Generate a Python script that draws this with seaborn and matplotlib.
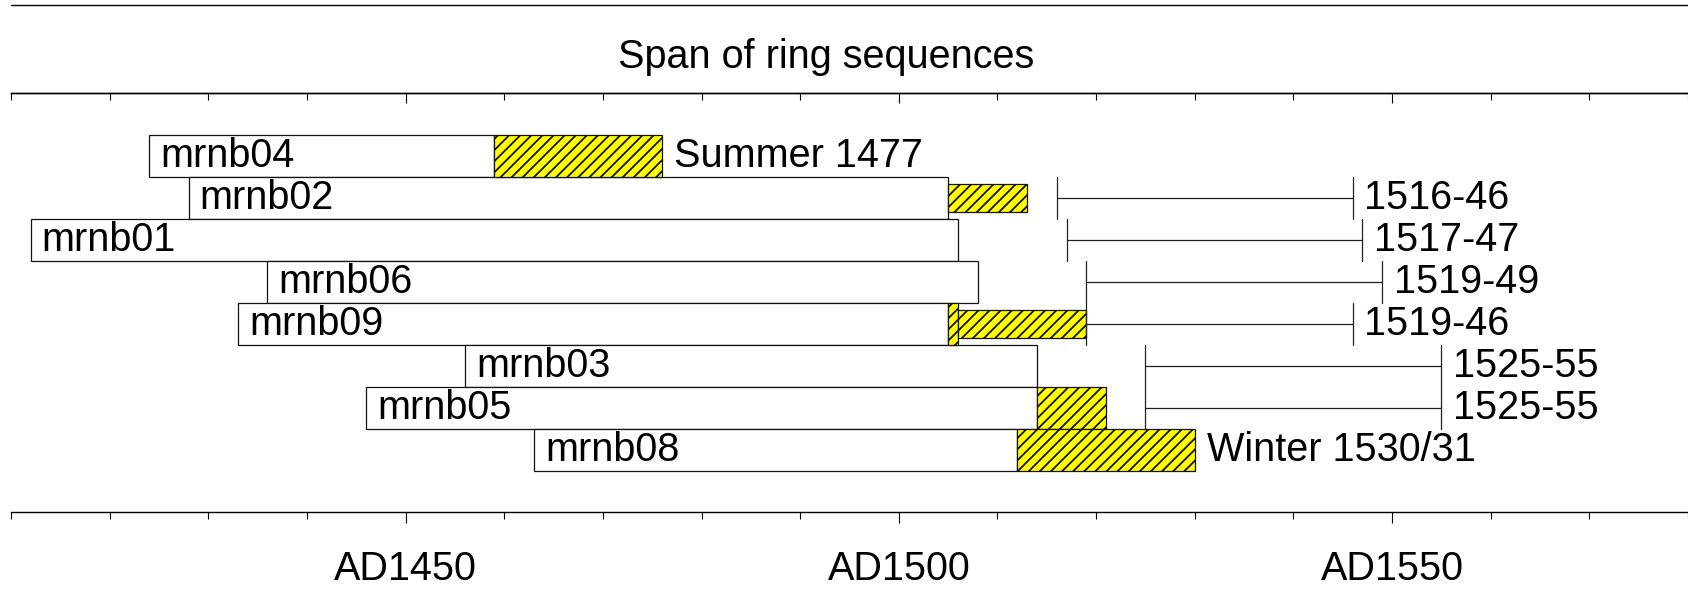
import numpy as np
import pandas as pd
import matplotlib
matplotlib.use('Agg')
import matplotlib.pyplot as plt
from matplotlib.lines import Line2D
from matplotlib.ticker import MultipleLocator, FixedLocator
import seaborn as sns

# Sample data (years)
names = ['mrnb04', 'mrnb02', 'mrnb01', 'mrnb06', 'mrnb09', 'mrnb03', 'mrnb05', 'mrnb08']
first_ring = [1424, 1428, 1412, 1436, 1433, 1456, 1446, 1463]
heartwood_end = [1459, 1505, 1506, 1508, 1505, 1514, 1514, 1512]
sapwood_end = [1476, np.nan, np.nan, np.nan, 1506, np.nan, 1521, 1530]
sapwood_est_end = [np.nan, 1513, np.nan, np.nan, 1519, np.nan, np.nan, np.nan]
felled_from = [np.nan, 1516, 1517, 1519, 1519, 1525, 1525, np.nan]
felled_to = [np.nan, 1546, 1547, 1549, 1546, 1555, 1555, np.nan]
end_labels = ['Summer 1477', '1516-46', '1517-47', '1519-49', '1519-46',
              '1525-55', '1525-55', 'Winter 1530/31']
major_years = [1450, 1500, 1550]
major_labels = ['AD1450', 'AD1500', 'AD1550']

df = pd.DataFrame({'name': names, 'start': first_ring, 'hw_end': heartwood_end,
                   'sap_end': sapwood_end, 'est_end': sapwood_est_end,
                   'fell_from': felled_from, 'fell_to': felled_to, 'label': end_labels})
df['row'] = np.arange(len(df)) + 0.5

sns.set_style('ticks')
plt.rcParams['font.family'] = ['Liberation Sans', 'DejaVu Sans']
plt.rcParams['text.color'] = 'black'
plt.rcParams['xtick.color'] = 'black'
plt.rcParams['xtick.labelcolor'] = 'black'
plt.rcParams['hatch.linewidth'] = 1.3
plt.rcParams['hatch.color'] = 'black'

fig = plt.figure(figsize=(16.88, 5.98), dpi=100)
ax = fig.add_axes([11 / 1688, 0.143, 1 - 11 / 1688, 0.7015])

fs = 28.5
edge = dict(edgecolor='#111111', linewidth=0.9)

# heartwood / measured span
ax.barh(df['row'], df['hw_end'] - df['start'], left=df['start'], height=1.0,
        color='white', **edge)

# measured sapwood (full height)
sap = df.dropna(subset=['sap_end'])
ax.barh(sap['row'], sap['sap_end'] - sap['hw_end'], left=sap['hw_end'], height=1.0,
        color='#ffff00', hatch='///', **edge)

# estimated sapwood (shorter box)
est = df.dropna(subset=['est_end'])
est_left = est['sap_end'].fillna(est['hw_end'])
ax.barh(est['row'], est['est_end'] - est_left, left=est_left, height=0.66,
        color='#ffff00', hatch='///', **edge)

# felling date ranges
for _, r in df.dropna(subset=['fell_from']).iterrows():
    ax.plot([r['fell_from'], r['fell_to']], [r['row'], r['row']], color='#222222', lw=0.9)
    for xv in (r['fell_from'], r['fell_to']):
        ax.plot([xv, xv], [r['row'] - 0.5, r['row'] + 0.5], color='#222222', lw=0.9)

# labels
for _, r in df.iterrows():
    ax.annotate(r['name'], (r['start'], r['row']), xytext=(8, 0), textcoords='offset points',
                ha='left', va='center', fontsize=fs)
    right = r['fell_to'] if not np.isnan(r['fell_to']) else np.nanmax([r['sap_end'], r['hw_end']])
    ax.annotate(r['label'], (right, r['row']), xytext=(8.5, 0), textcoords='offset points',
                ha='left', va='center', fontsize=fs)

ax.set_xlim(1410, 1580)
ax.set_ylim(9, -1)
ax.set_yticks([])
for s in ['left', 'right']:
    ax.spines[s].set_visible(False)
for s in ['top', 'bottom']:
    ax.spines[s].set_linewidth(1.0)
    ax.spines[s].set_color('black')

ax.xaxis.set_major_locator(FixedLocator(major_years))
ax.set_xticklabels(major_labels, fontsize=fs)
ax.xaxis.set_minor_locator(MultipleLocator(10))
ax.tick_params(axis='x', which='major', direction='out', length=8, width=0.8, pad=19,
               bottom=True, top=False, colors='black')
ax.tick_params(axis='x', which='minor', direction='out', length=5, width=0.8,
               bottom=True, top=False, colors='black')

top = ax.secondary_xaxis('top')
top.xaxis.set_major_locator(FixedLocator(major_years))
top.xaxis.set_minor_locator(MultipleLocator(10))
top.tick_params(axis='x', which='major', direction='in', length=7.5, width=0.8,
                labeltop=False, colors='black')
top.tick_params(axis='x', which='minor', direction='in', length=5, width=0.8, colors='black')
top.spines['top'].set_linewidth(1.0)
top.spines['top'].set_color('black')

fig.text(826 / 1688, 1 - 57 / 598, 'Span of ring sequences', ha='center', va='center',
         fontsize=fs, color='black')
fig.add_artist(Line2D([11 / 1688, 1], [1 - 5 / 598, 1 - 5 / 598], color='black', lw=1.0))

fig.savefig('out.png', dpi=100)
